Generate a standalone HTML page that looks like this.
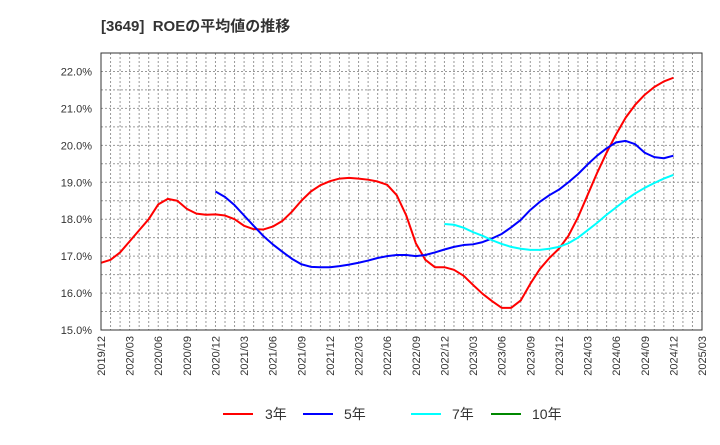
<!DOCTYPE html>
<html><head><meta charset="utf-8"><style>
body{margin:0;background:#fff;width:720px;height:440px;overflow:hidden;font-family:"Liberation Sans","Noto Sans CJK JP",sans-serif}
</style></head><body>
<svg id="c" width="720" height="440" xmlns="http://www.w3.org/2000/svg">
<text x="101" y="31" font-size="15" font-weight="bold" fill="#333">[3649]&#160; ROEの平均値の推移</text>
<g id="grid"></g><g id="series"></g><g id="axes"></g>
<g font-size="14" fill="#333">
<g><line x1="223" y1="414" x2="253" y2="414" stroke="#f00" stroke-width="2"/><text x="265" y="419">3年</text></g>
<g><line x1="303" y1="414" x2="333" y2="414" stroke="#00f" stroke-width="2"/><text x="344" y="419">5年</text></g>
<g><line x1="411" y1="414" x2="441" y2="414" stroke="#0ff" stroke-width="2"/><text x="452" y="419">7年</text></g>
<g><line x1="491" y1="414" x2="521" y2="414" stroke="#080" stroke-width="2"/><text x="532" y="419">10年</text></g>
</g>
</svg>
<script>
const xTickLabels=["2019/12","2020/03","2020/06","2020/09","2020/12","2021/03","2021/06","2021/09","2021/12","2022/03","2022/06","2022/09","2022/12","2023/03","2023/06","2023/09","2023/12","2024/03","2024/06","2024/09","2024/12","2025/03"];
const yTicks=[15,16,17,18,19,20,21,22];
const roe3=[16.82,16.9,17.1,17.4,17.7,18.0,18.4,18.55,18.5,18.28,18.15,18.12,18.13,18.1,18.0,17.82,17.73,17.72,17.8,17.95,18.2,18.5,18.75,18.92,19.03,19.1,19.12,19.1,19.07,19.02,18.93,18.65,18.1,17.35,16.9,16.7,16.7,16.63,16.47,16.22,15.98,15.78,15.6,15.6,15.8,16.25,16.65,16.95,17.2,17.55,18.05,18.65,19.25,19.8,20.3,20.75,21.1,21.37,21.58,21.73,21.83];
const roe5Start=12;
const roe5=[18.75,18.6,18.38,18.1,17.82,17.55,17.32,17.12,16.93,16.78,16.71,16.7,16.7,16.73,16.77,16.82,16.88,16.95,17.0,17.03,17.03,17.0,17.03,17.1,17.18,17.25,17.3,17.32,17.38,17.48,17.6,17.78,17.98,18.25,18.47,18.65,18.8,19.0,19.22,19.48,19.72,19.92,20.08,20.12,20.03,19.8,19.68,19.65,19.72];
const roe7Start=36;
const roe7=[17.87,17.85,17.77,17.65,17.55,17.43,17.33,17.25,17.2,17.17,17.17,17.2,17.25,17.35,17.5,17.7,17.9,18.12,18.32,18.52,18.7,18.85,18.98,19.1,19.2];
const L=101,R=702,T=53,B=330,NM=63;
const x=i=>L+i*(R-L)/NM;
const y=v=>B-(v-15)*(B-T)/7.5;
const NS="http://www.w3.org/2000/svg";
function mk(p,t,a){const e=document.createElementNS(NS,t);for(const k in a)e.setAttribute(k,a[k]);document.getElementById(p).appendChild(e);return e;}
for(let i=1;i<NM;i++){const g=mk("grid","line",{x1:x(i),x2:x(i),y1:T,y2:B,stroke:"#999","stroke-dasharray":"2,2","stroke-width":1});

}
for(let v=15.5;v<22.5;v+=0.5){const g=mk("grid","line",{x1:L,x2:R,y1:y(v),y2:y(v),stroke:"#999","stroke-dasharray":"2,2","stroke-width":1});

}
const fr=mk("axes","rect",{x:L,y:T,width:R-L,height:B-T,fill:"none",stroke:"#333","stroke-width":1});


yTicks.forEach(v=>{const t=mk("axes","text",{x:92,y:y(v)+4,"text-anchor":"end","font-size":11,fill:"#333"});t.textContent=v.toFixed(1)+"%";

});
xTickLabels.forEach((s,k)=>{const xx=x(k*3);const t=mk("axes","text",{x:0,y:0,"text-anchor":"end","font-size":11,fill:"#333",transform:`translate(${xx+4},336) rotate(-90)`});t.textContent=s;

});
function line(d,s,c,n){const p=mk("series","polyline",{points:d.map((v,i)=>x(i+s)+","+y(v)).join(" "),fill:"none",stroke:c,"stroke-width":2,"stroke-linejoin":"round"});

}
line(roe3,0,"#f00","series-3y");
line(roe5,roe5Start,"#00f","series-5y");
line(roe7,roe7Start,"#0ff","series-7y");
</script>
</body></html>
